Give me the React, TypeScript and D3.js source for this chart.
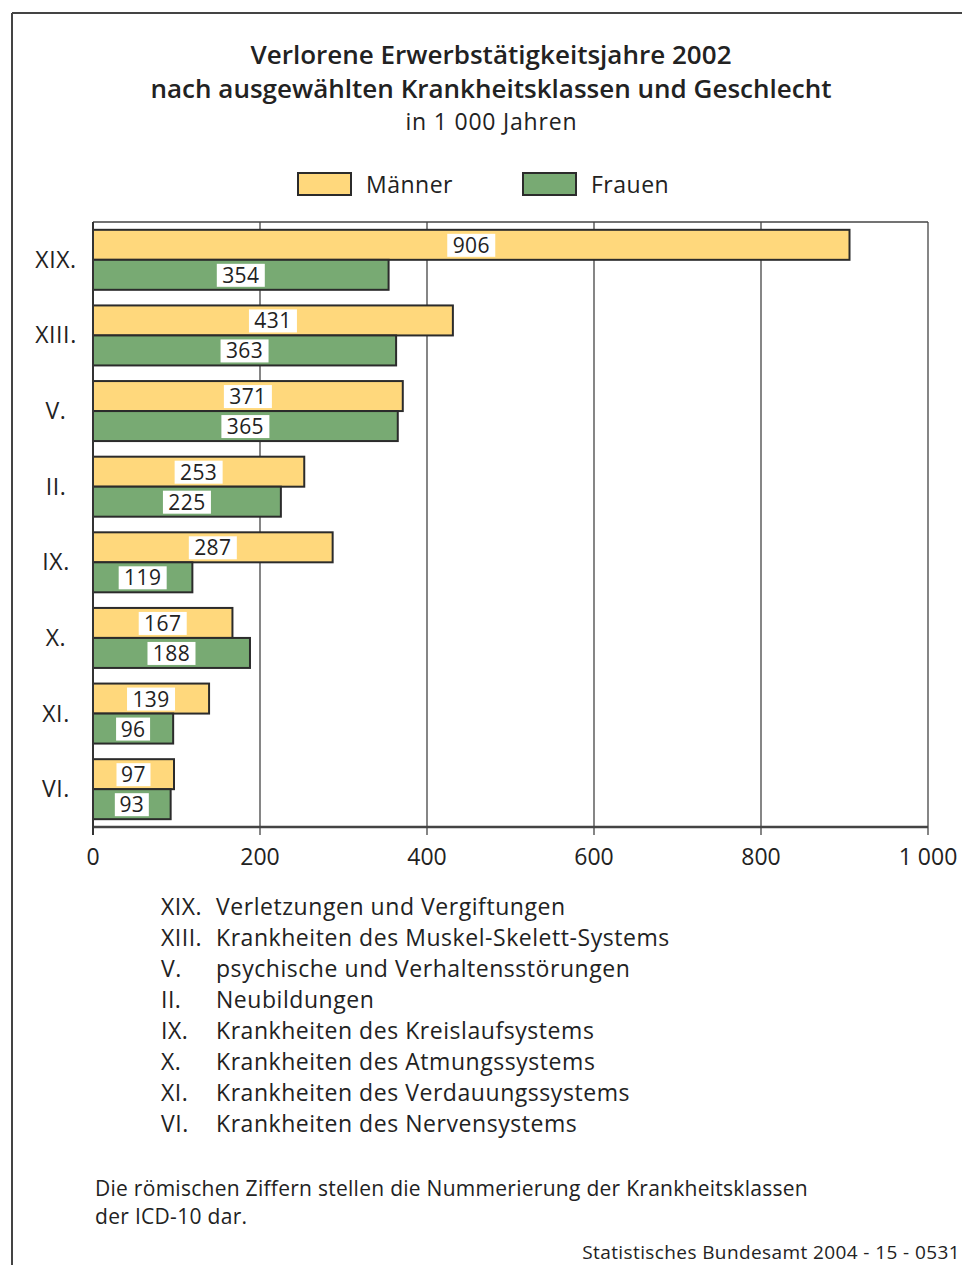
import React from "react";
import * as d3 from "d3";

const categories = ["XIX.", "XIII.", "V.", "II.", "IX.", "X.", "XI.", "VI."];
const maennerValues = [906, 431, 371, 253, 287, 167, 139, 97];
const frauenValues = [354, 363, 365, 225, 119, 188, 96, 93];
const seriesNames = ["Männer", "Frauen"];
const tickValues = [0, 200, 400, 600, 800, 1000];
const tickLabels = ["0", "200", "400", "600", "800", "1 000"];
const legendCodes = ["XIX.", "XIII.", "V.", "II.", "IX.", "X.", "XI.", "VI."];
const legendTexts = [
  "Verletzungen und Vergiftungen",
  "Krankheiten des Muskel-Skelett-Systems",
  "psychische und Verhaltensstörungen",
  "Neubildungen",
  "Krankheiten des Kreislaufsystems",
  "Krankheiten des Atmungssystems",
  "Krankheiten des Verdauungssystems",
  "Krankheiten des Nervensystems",
];

const W = 962;
const H = 1265;
const FONT = "'Open Sans', 'Noto Sans', sans-serif";
const MEN = "#FFD87C";
const WOMEN = "#78AA73";
const DARK = "#2b2b2b";

export default function App() {
  const x = d3.scaleLinear().domain([0, 1000]).range([93, 928]);
  const y = d3.scaleBand<string>().domain(categories).range([222, 827]).padding(0);
  const barH = 30;

  const series = [maennerValues, frauenValues];
  const colors = [MEN, WOMEN];

  return (
    <svg
      width={W}
      height={H}
      style={{ position: "absolute", left: 0, top: 0, fontFamily: FONT }}
    >
      <rect x={0} y={0} width={W} height={H} fill="#fff" />
      {/* frame */}
      <line x1={12} y1={13} x2={W} y2={13} stroke="#444" strokeWidth={2} />
      <line x1={12} y1={13} x2={12} y2={H} stroke="#444" strokeWidth={2} />

      {/* title */}
      <text x={491} y={64} textAnchor="middle" fontSize={26} fontWeight={600} fill="#222" textLength={481} lengthAdjust="spacing">
        Verlorene Erwerbstätigkeitsjahre 2002
      </text>
      <text x={491} y={98} textAnchor="middle" fontSize={26} fontWeight={600} fill="#222" textLength={681} lengthAdjust="spacing">
        nach ausgewählten Krankheitsklassen und Geschlecht
      </text>
      <text x={491} y={130} textAnchor="middle" fontSize={23} fill="#222" textLength={171} lengthAdjust="spacing">
        in 1 000 Jahren
      </text>

      {/* legend */}
      {seriesNames.map((n, i) => {
        const bx = i === 0 ? 298 : 523;
        return (
          <g key={n}>
            <rect x={bx} y={173} width={53} height={22} fill={colors[i]} stroke={DARK} strokeWidth={2} />
            <text x={bx + 68} y={193} fontSize={23} letterSpacing={0.5} fill="#222">
              {n}
            </text>
          </g>
        );
      })}

      {/* grid */}
      <line x1={x(0)} x2={x(1000)} y1={222} y2={222} stroke="#444" strokeWidth={1.5} />
      {tickValues.map((t) => (
        <line key={"g" + t} x1={x(t)} x2={x(t)} y1={222} y2={835} stroke="#444" strokeWidth={1.3} />
      ))}

      {/* bars */}
      {categories.map((c, ci) => {
        const cy = (y(c) as number) + y.bandwidth() / 2;
        return (
          <g key={c}>
            {series.map((vals, si) => {
              const top = cy - barH + si * barH;
              const v = vals[ci];
              const cx = x(v / 2);
              return (
                <g key={si}>
                  <rect
                    x={x(0)}
                    y={top}
                    width={x(v) - x(0)}
                    height={barH}
                    fill={colors[si]}
                    stroke={DARK}
                    strokeWidth={2}
                  />
                  <rect
                    x={cx - (String(v).length === 3 ? 24 : 17)}
                    y={top + 4}
                    width={String(v).length === 3 ? 48 : 34}
                    height={23}
                    fill="#fff"
                  />
                  <text x={cx} y={top + 23} textAnchor="middle" fontSize={21} letterSpacing={0.4} fill="#222">
                    {v}
                  </text>
                </g>
              );
            })}
            <text x={56} y={cy + 8} textAnchor="middle" fontSize={23} letterSpacing={0.6} fill="#222">
              {c}
            </text>
          </g>
        );
      })}

      {/* axis */}
      <line x1={x(0)} x2={x(1000)} y1={827} y2={827} stroke="#444" strokeWidth={2.5} />
      <line x1={x(0)} x2={x(0)} y1={222} y2={835} stroke="#333" strokeWidth={2} />
      {tickValues.map((t, i) => (
        <text key={"t" + t} x={x(t)} y={865} textAnchor="middle" fontSize={23} fill="#222">
          {tickLabels[i]}
        </text>
      ))}

      {/* code legend */}
      {legendCodes.map((c, i) => (
        <g key={"l" + c}>
          <text x={161} y={915 + i * 31} fontSize={23} letterSpacing={0.5} fill="#222">
            {c}
          </text>
          <text x={216} y={915 + i * 31} fontSize={23} letterSpacing={0.55} fill="#222">
            {legendTexts[i]}
          </text>
        </g>
      ))}

      {/* footnote */}
      <text x={95} y={1196} fontSize={21} letterSpacing={0.3} fill="#222" textLength={713} lengthAdjust="spacing">
        Die römischen Ziffern stellen die Nummerierung der Krankheitsklassen
      </text>
      <text x={95} y={1224} fontSize={21} letterSpacing={0.3} fill="#222">
        der ICD-10 dar.
      </text>
      <text x={960} y={1259} textAnchor="end" fontSize={19} letterSpacing={0.4} fill="#222">
        Statistisches Bundesamt 2004 - 15 - 0531
      </text>
    </svg>
  );
}
